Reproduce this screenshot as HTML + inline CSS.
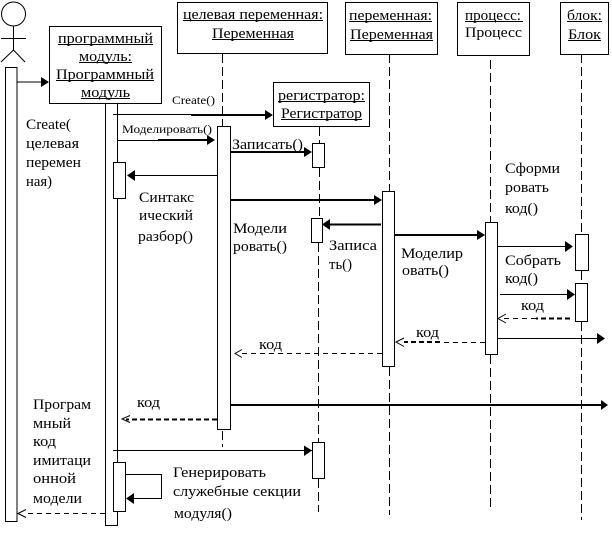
<!DOCTYPE html>
<html><head><meta charset="utf-8"><style>
html,body{margin:0;padding:0;background:#fff}
svg{display:block}
text{font-family:"Liberation Serif","Noto Serif CJK SC",serif;font-size:15px;fill:#000}
.s{font-size:11.5px}
.b{fill:#fff;stroke:#000;stroke-width:1}
.l{stroke:#000;stroke-width:1;fill:none}
.t{stroke:#000;stroke-width:2;fill:none}
.d{stroke:#000;stroke-width:1;stroke-dasharray:9 4;fill:none}
.dd{stroke:#000;stroke-width:1;stroke-dasharray:5 4;fill:none}
.dt{stroke:#000;stroke-width:2;stroke-dasharray:5 3;fill:none}
.u{stroke:#000;stroke-width:1}
</style></head><body>
<svg width="612" height="533" viewBox="0 0 612 533" xmlns="http://www.w3.org/2000/svg">
<rect width="612" height="533" fill="#fff"/>
<!-- lifelines -->
<path class="d" d="M222.5 54V126M222.5 431V447"/>
<path class="d" d="M319.5 127V143M319.5 168V218M318.5 243V442M318.5 479V512"/>
<path class="d" d="M389.5 54V191M389.5 367V515"/>
<path class="d" d="M490.5 60V222M490.5 355V511"/>
<path class="d" d="M581.5 54V234M581.5 271V283M581.5 322V520"/>
<!-- actor -->
<circle class="l" cx="13.5" cy="14" r="12"/>
<path class="l" d="M13.5 26V51M1 38.5H26M13.5 50L1 62M13.5 50L25 62"/>
<!-- activations -->
<rect class="b" x="5.5" y="67.5" width="11.5" height="454"/>
<rect class="b" x="105.5" y="103.5" width="12" height="422"/>
<rect class="b" x="113.5" y="162.5" width="12" height="36"/>
<rect class="b" x="217.5" y="126.5" width="13" height="303"/>
<rect class="b" x="312.5" y="143.5" width="12" height="24"/>
<rect class="b" x="311.5" y="218.5" width="11" height="24"/>
<rect class="b" x="382.5" y="191.5" width="12" height="175"/>
<rect class="b" x="485.5" y="222.5" width="12" height="132"/>
<rect class="b" x="575.5" y="234.5" width="13" height="36"/>
<rect class="b" x="575.5" y="283.5" width="12" height="38"/>
<rect class="b" x="312.5" y="442.5" width="12" height="36"/>
<rect class="b" x="113.5" y="462.5" width="12" height="49"/>
<!-- boxes -->
<rect class="b" x="49.5" y="26.5" width="112" height="77"/>
<rect class="b" x="177.5" y="2.5" width="150" height="51"/>
<rect class="b" x="273.5" y="82.5" width="96" height="44"/>
<rect class="b" x="345.5" y="2.5" width="92" height="52"/>
<rect class="b" x="457.5" y="2.5" width="72" height="53"/>
<rect class="b" x="560.5" y="2.5" width="48" height="52"/>
<!-- solid arrows -->
<g fill="#000">
<path class="l" d="M17 82H42"/><path d="M41 77L49 82L41 87Z"/>
<path class="l" d="M113 114.5H192"/><path class="t" d="M191 115H266"/><path d="M265 110L273 115L265 120Z"/>
<path class="l" d="M117 140.5H158"/><path class="t" d="M158 140H208"/><path d="M207 135L215 140L207 145Z"/>
<path class="t" d="M230 152H305"/><path d="M304 147L312 152L304 157Z"/>
<path class="l" d="M217 175.5H134"/><path d="M135 170L127 175.5L135 181Z"/>
<path class="t" d="M230 200H375"/><path d="M374 195L382 200L374 205Z"/>
<path class="t" d="M381 224.5H329"/><path d="M330 219L322 224.5L330 230Z"/>
<path class="t" d="M394 235H478"/><path d="M477 230L485 235L477 240Z"/>
<path class="l" d="M497 246.5H566"/><path d="M565 241L573 246.5L565 252Z"/>
<path class="l" d="M500 294.5H568"/><path d="M567 289L575 294.5L567 300Z"/>
<path class="l" d="M497 338.5H598"/><path d="M597 333L605 338.5L597 344Z"/>
<path class="t" d="M230 405H602"/><path d="M601 400L608 405L601 410Z"/>
<path class="l" d="M113 450.5H312"/>
<path d="M304 445.5L312 450.5L304 456Z"/>
<path class="l" d="M125 474.5H161.5V498.5H133"/><path d="M134 493L126 498.5L134 504Z"/>
</g>
<!-- dashed returns -->
<path class="dd" d="M536 318.5H500"/><path class="dt" d="M570 318.5H536"/><path class="l" d="M506 314L498 318.5L506 323"/>
<path class="dd" d="M485 342.5H440"/><path class="dt" d="M440 342H404"/><path class="l" d="M404 338L396 342L404 346.5"/>
<path class="dd" d="M382 353.5H240"/><path class="l" d="M242 349.5L235 353.5L242 357.5"/>
<path class="dt" d="M217 419.5H126"/><path class="l" d="M130 415.5L122 419L130 422.5"/>
<path class="dd" d="M105 513.5H24"/><path class="l" d="M26 509.5L18 513.5L26 517.5"/>
<!-- headers -->
<text x="58" y="43" textLength="95" lengthAdjust="spacingAndGlyphs">программный</text><path class="u" d="M58 44.5H153"/>
<text x="79" y="61" textLength="53" lengthAdjust="spacingAndGlyphs">модуль:</text><path class="u" d="M79 62.5H132"/>
<text x="56" y="79" textLength="98" lengthAdjust="spacingAndGlyphs">Программный</text><path class="u" d="M56 80.5H154"/>
<text x="81" y="97" textLength="49" lengthAdjust="spacingAndGlyphs">модуль</text><path class="u" d="M81 98.5H130"/>
<text x="183" y="19" textLength="140" lengthAdjust="spacingAndGlyphs">целевая переменная:</text><path class="u" d="M183 20.5H323"/>
<text x="212" y="38" textLength="82" lengthAdjust="spacingAndGlyphs">Переменная</text><path class="u" d="M212 39.5H294"/>
<text x="278" y="100" textLength="87" lengthAdjust="spacingAndGlyphs">регистратор:</text><path class="u" d="M278 101.5H365"/>
<text x="281" y="118" textLength="81" lengthAdjust="spacingAndGlyphs">Регистратор</text><path class="u" d="M281 119.5H362"/>
<text x="349" y="20" textLength="83" lengthAdjust="spacingAndGlyphs">переменная:</text><path class="u" d="M349 21.5H432"/>
<text x="350" y="39" textLength="83" lengthAdjust="spacingAndGlyphs">Переменная</text><path class="u" d="M350 40.5H433"/>
<text x="465" y="20" textLength="56" lengthAdjust="spacingAndGlyphs">процесс:</text><path class="u" d="M465 21.5H523"/>
<text x="465" y="37" textLength="57" lengthAdjust="spacingAndGlyphs">Процесс</text>
<text x="567" y="20" textLength="35" lengthAdjust="spacingAndGlyphs">блок:</text><path class="u" d="M567 21.5H602"/>
<text x="568" y="39" textLength="33" lengthAdjust="spacingAndGlyphs">Блок</text><path class="u" d="M568 40.5H601"/>
<!-- labels -->
<text class="s" x="172" y="104" textLength="43" lengthAdjust="spacingAndGlyphs">Create()</text>
<text class="s" x="122" y="133" textLength="90" lengthAdjust="spacingAndGlyphs">Моделировать()</text>
<text x="232" y="149" textLength="71" lengthAdjust="spacingAndGlyphs">Записать()</text>
<text x="26" y="129" textLength="45" lengthAdjust="spacingAndGlyphs">Create(</text>
<text x="26" y="148" textLength="53" lengthAdjust="spacingAndGlyphs">целевая</text>
<text x="26" y="167" textLength="55" lengthAdjust="spacingAndGlyphs">перемен</text>
<text x="26" y="186" textLength="26" lengthAdjust="spacingAndGlyphs">ная)</text>
<text x="139" y="202" textLength="55" lengthAdjust="spacingAndGlyphs">Синтакс</text>
<text x="139" y="220" textLength="54" lengthAdjust="spacingAndGlyphs">ический</text>
<text x="138" y="241" textLength="55" lengthAdjust="spacingAndGlyphs">разбор()</text>
<text x="233" y="233" textLength="54" lengthAdjust="spacingAndGlyphs">Модели</text>
<text x="233" y="251" textLength="54" lengthAdjust="spacingAndGlyphs">ровать()</text>
<text x="329" y="250" textLength="48" lengthAdjust="spacingAndGlyphs">Записа</text>
<text x="329" y="269" textLength="23" lengthAdjust="spacingAndGlyphs">ть()</text>
<text x="401" y="258" textLength="62" lengthAdjust="spacingAndGlyphs">Моделир</text>
<text x="402" y="275" textLength="47" lengthAdjust="spacingAndGlyphs">овать()</text>
<text x="505" y="173" textLength="55" lengthAdjust="spacingAndGlyphs">Сформи</text>
<text x="505" y="192" textLength="44" lengthAdjust="spacingAndGlyphs">ровать</text>
<text x="505" y="213" textLength="33" lengthAdjust="spacingAndGlyphs">код()</text>
<text x="505" y="265" textLength="56" lengthAdjust="spacingAndGlyphs">Собрать</text>
<text x="505" y="283" textLength="33" lengthAdjust="spacingAndGlyphs">код()</text>
<text x="521" y="310" textLength="23" lengthAdjust="spacingAndGlyphs">код</text>
<text x="416" y="337" textLength="23" lengthAdjust="spacingAndGlyphs">код</text>
<text x="259" y="349" textLength="23" lengthAdjust="spacingAndGlyphs">код</text>
<text x="137" y="407" textLength="23" lengthAdjust="spacingAndGlyphs">код</text>
<text x="33" y="409" textLength="58" lengthAdjust="spacingAndGlyphs">Програм</text>
<text x="33" y="428" textLength="38" lengthAdjust="spacingAndGlyphs">мный</text>
<text x="33" y="446" textLength="23" lengthAdjust="spacingAndGlyphs">код</text>
<text x="33" y="465" textLength="58" lengthAdjust="spacingAndGlyphs">имитаци</text>
<text x="33" y="483" textLength="43" lengthAdjust="spacingAndGlyphs">онной</text>
<text x="33" y="503" textLength="49" lengthAdjust="spacingAndGlyphs">модели</text>
<text x="173" y="477" textLength="93" lengthAdjust="spacingAndGlyphs">Генерировать</text>
<text x="173" y="496" textLength="128" lengthAdjust="spacingAndGlyphs">служебные секции</text>
<text x="174" y="518" textLength="58" lengthAdjust="spacingAndGlyphs">модуля()</text>
</svg>
</body></html>
